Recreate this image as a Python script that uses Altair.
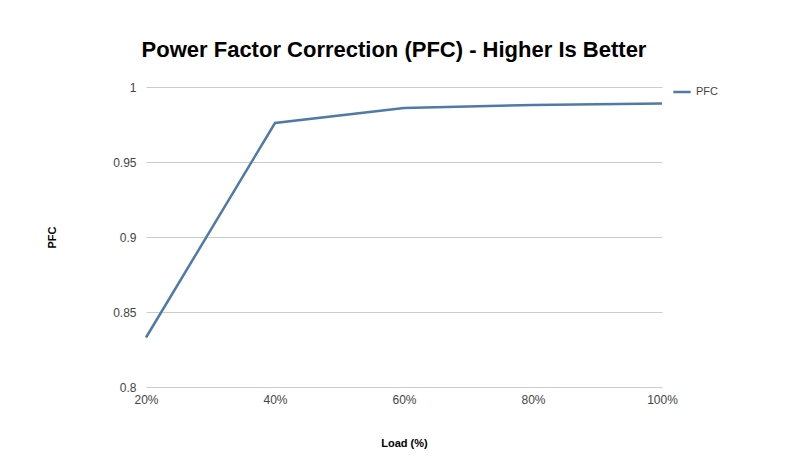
import altair as alt
import pandas as pd

loads = [20, 40, 60, 80, 100]
pfc = [0.833, 0.976, 0.986, 0.988, 0.989]
series = ["PFC"] * len(loads)

df = pd.DataFrame({"load": loads, "pfc": pfc, "series": series})

font = "Liberation Sans"

chart = alt.Chart(df).mark_line(strokeWidth=2.5).encode(
    x=alt.X("load:Q", scale=alt.Scale(domain=[20, 100], nice=False),
            axis=alt.Axis(values=loads, labelExpr="datum.value + '%'", title="Load (%)",
                          grid=False, domain=False, ticks=False, labelPadding=7,
                          labelFlush=False, labelBound=False,
                          titlePadding=32, labelFontSize=12, labelColor="#444",
                          titleFontSize=11, titleFontWeight="bold", titleColor="#000",
                          labelFont=font, titleFont=font)),
    y=alt.Y("pfc:Q", scale=alt.Scale(domain=[0.8, 1.0], nice=False, zero=False),
            axis=alt.Axis(values=[0.8, 0.85, 0.9, 0.95, 1.0], title="PFC",
                          labelExpr="format(datum.value, '~g')",
                          domain=False, ticks=False, labelPadding=10, titlePadding=55,
                          gridColor="#cccccc", gridWidth=1,
                          labelFontSize=12, labelColor="#444", titleFontSize=11,
                          titleFontWeight="bold", titleColor="#000",
                          labelFont=font, titleFont=font)),
    color=alt.Color("series:N", scale=alt.Scale(range=["#4f7aa8"]),
                    legend=alt.Legend(title=None, orient="none", legendX=526, legendY=-5,
                                      symbolType="stroke", symbolStrokeWidth=2.5, symbolSize=300,
                                      labelFontSize=11, labelColor="#444", labelFont=font)),
).properties(
    width=516, height=300,
    title=alt.TitleParams("Power Factor Correction (PFC) - Higher Is Better",
                          fontSize=22, font=font, fontWeight="bold", color="#000",
                          anchor="middle", dx=-10, offset=19),
    autosize=alt.AutoSizeParams(type="none"),
    padding={"left": 138, "top": 79, "right": 130, "bottom": 63},
).configure_view(stroke=None)

chart.save("out.html", embed_options={"renderer": "svg", "actions": False})
